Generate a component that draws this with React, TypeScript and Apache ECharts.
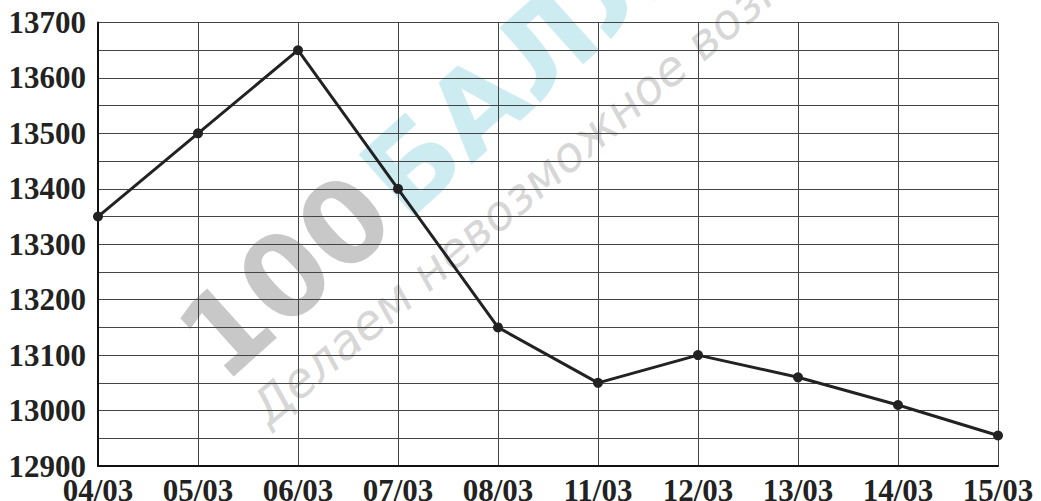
import React, { useEffect, useRef } from "react";
import * as echarts from "echarts";

const categories = ["04/03", "05/03", "06/03", "07/03", "08/03", "11/03", "12/03", "13/03", "14/03", "15/03"];
const values = [13350, 13500, 13650, 13400, 13150, 13050, 13100, 13060, 13010, 12955];
const yMin = 12900;
const yMax = 13700;
const yStep = 50;

export default function App() {
  const ref = useRef<HTMLDivElement>(null);
  useEffect(() => {
    if (!ref.current) return;
    const chart = echarts.init(ref.current, null, { renderer: "svg" });
    const ang = (42 * Math.PI) / 180;
    const ang2 = (40 * Math.PI) / 180;
    chart.setOption({
      animation: false,
      backgroundColor: "#ffffff",
      grid: { left: 98, right: 43, top: 22.5, bottom: 35, containLabel: false, outerBoundsMode: "none" },
      graphic: {
        elements: [
          {
            type: "text",
            x: 374,
            y: 197,
            rotation: ang,
            z: -10,
            silent: true,
            style: {
              text: "100",
              font: "bold 114px 'DejaVu Sans'",
              fill: "#c2c2c2",
              opacity: 0.9,
              align: "right",
              verticalAlign: "middle",
            },
          },
          {
            type: "text",
            x: 380,
            y: 194,
            rotation: ang,
            z: -10,
            silent: true,
            style: {
              text: "БАЛЛОВ",
              font: "bold 114px 'DejaVu Sans'",
              fill: "#c8eaf1",
              opacity: 0.9,
              align: "left",
              verticalAlign: "middle",
            },
          },
          {
            type: "text",
            x: 258,
            y: 414,
            rotation: ang2,
            z: -10,
            silent: true,
            style: {
              text: "Делаем невозможное возможным",
              font: "italic 48px 'DejaVu Sans'",
              fill: "#d2d2d2",
              opacity: 0.9,
              align: "left",
              verticalAlign: "middle",
            },
          },
        ],
      },
      xAxis: {
        type: "category",
        data: categories,
        boundaryGap: false,
        z: 3,
        axisLine: { show: true, lineStyle: { color: "#111", width: 2 } },
        axisTick: { show: false },
        axisLabel: {
          margin: 9,
          color: "#222",
          fontFamily: "'Liberation Serif'",
          fontWeight: "bold",
          fontSize: 31,
          interval: 0,
        },
        splitLine: { show: true, lineStyle: { color: "#444", width: 1 } },
      },
      yAxis: {
        type: "value",
        min: yMin,
        max: yMax,
        interval: yStep,
        z: 3,
        axisLine: { show: true, lineStyle: { color: "#111", width: 2 } },
        axisTick: { show: false },
        axisLabel: {
          margin: 12,
          color: "#222",
          fontFamily: "'Liberation Serif'",
          fontWeight: "bold",
          fontSize: 31,
          formatter: (v: number) => (v % 100 === 0 ? String(v) : ""),
        },
        splitLine: { show: true, lineStyle: { color: "#444", width: 1 } },
      },
      series: [
        {
          type: "line",
          data: values,
          symbol: "circle",
          symbolSize: 10,
          lineStyle: { color: "#222", width: 3 },
          itemStyle: { color: "#222" },
          z: 5,
        },
      ],
    });
    return () => chart.dispose();
  }, []);
  return <div ref={ref} style={{ position: "absolute", left: 0, top: 0, width: 1041, height: 501 }} />;
}
